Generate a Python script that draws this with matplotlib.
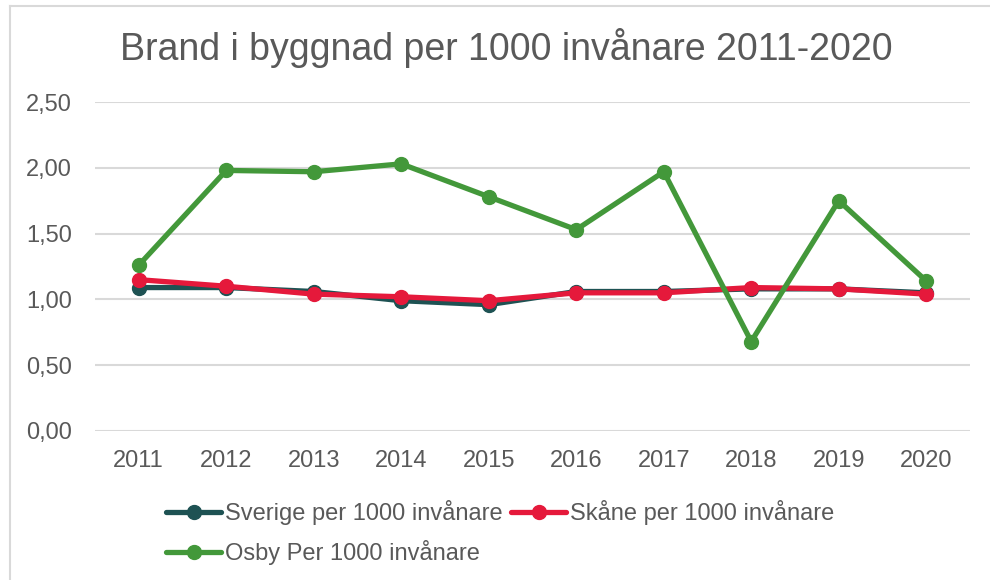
import matplotlib
matplotlib.use('Agg')
import matplotlib.pyplot as plt
from matplotlib.lines import Line2D
import numpy as np

# -------------------------- Data --------------------------
years = ['2011', '2012', '2013', '2014', '2015', '2016', '2017', '2018', '2019', '2020']
sverige = [1.09, 1.09, 1.06, 0.99, 0.96, 1.06, 1.06, 1.08, 1.08, 1.05]
skane = [1.15, 1.10, 1.04, 1.02, 0.99, 1.05, 1.05, 1.09, 1.08, 1.04]
osby = [1.26, 1.98, 1.97, 2.03, 1.78, 1.53, 1.97, 0.68, 1.75, 1.14]

labels = ['Sverige per 1000 invånare', 'Skåne per 1000 invånare', 'Osby Per 1000 invånare']
colors = ['#1E5253', '#E5193B', '#43983A']
text_color = '#595959'
grid_color = '#D9D9D9'

plt.rcParams['font.family'] = ['Liberation Sans', 'DejaVu Sans']

# -------------------------- Plotting --------------------------
fig = plt.figure(figsize=(9.9, 5.8), dpi=100)
ax = fig.add_axes([95 / 990, 1 - 431 / 580, 875 / 990, 329 / 580])

x = np.arange(len(years))
handles = []
for vals, lab, c in zip([sverige, skane, osby], labels, colors):
    h, = ax.plot(x, vals, color=c, lw=3.8, marker='o', markersize=10,
                 solid_capstyle='round', solid_joinstyle='round', label=lab)
    handles.append(h)

ax.set_xlim(-0.5, len(years) - 0.5)
ax.set_ylim(0, 2.5)
ax.set_yticks(np.arange(0, 2.51, 0.5))
ax.set_yticklabels([f'{v:.2f}'.replace('.', ',') for v in np.arange(0, 2.51, 0.5)])
ax.set_xticks(x)
ax.set_xticklabels(years)
ax.tick_params(length=0, labelsize=17, colors=text_color)
ax.tick_params(axis='y', pad=16.5)
ax.tick_params(axis='x', pad=14)
ax.grid(True, axis='y', color=grid_color, lw=1.5)
ax.set_axisbelow(True)
for s in ax.spines.values():
    s.set_visible(False)

fig.text(506 / 990, 1 - 48 / 580, 'Brand i byggnad per 1000 invånare 2011-2020',
         ha='center', va='center', fontsize=27, color=text_color)

# legend row by row: Sverige, Skåne / Osby
leg = fig.legend([handles[0], handles[2], handles[1]],
                 [labels[0], labels[2], labels[1]],
                 ncol=2, loc='upper left', bbox_to_anchor=(157 / 990, 1 - 491 / 580),
                 frameon=False, fontsize=17, handlelength=2.3, handletextpad=0.2,
                 columnspacing=0.35, labelspacing=0.62, borderaxespad=0)
for t in leg.get_texts():
    t.set_color(text_color)

# chart frame (cut off at right and bottom)
fig.add_artist(Line2D([10 / 990, 10 / 990], [0, 1 - 6 / 580], color=grid_color, lw=1.5))
fig.add_artist(Line2D([10 / 990, 1], [1 - 6 / 580, 1 - 6 / 580], color=grid_color, lw=1.5))

fig.savefig('out.png', dpi=100)
